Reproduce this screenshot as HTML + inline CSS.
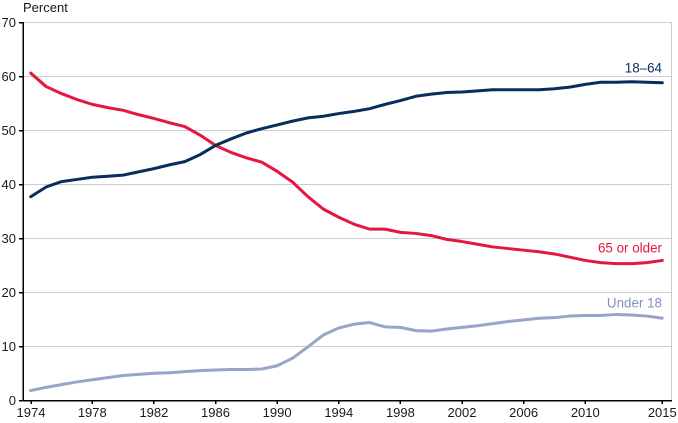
<!DOCTYPE html>
<html><head><meta charset="utf-8"><style>
html,body{margin:0;padding:0;background:#fff;}
svg{display:block;font-family:"Liberation Sans",Arial,sans-serif;}
</style></head><body>
<svg width="678" height="423" viewBox="0 0 678 423" xmlns="http://www.w3.org/2000/svg">
<g stroke="#cccccc" stroke-width="1" shape-rendering="crispEdges">
<line x1="23" y1="22.5" x2="671" y2="22.5"/>
<line x1="23" y1="76.5" x2="671" y2="76.5"/>
<line x1="23" y1="130.5" x2="671" y2="130.5"/>
<line x1="23" y1="184.5" x2="671" y2="184.5"/>
<line x1="23" y1="238.5" x2="671" y2="238.5"/>
<line x1="23" y1="292.5" x2="671" y2="292.5"/>
<line x1="23" y1="346.5" x2="671" y2="346.5"/>
<line x1="671.5" y1="22" x2="671.5" y2="400"/>
</g>
<g stroke="#000" stroke-width="1.5" shape-rendering="crispEdges">
<line x1="23" y1="22" x2="23" y2="401"/>
<line x1="22" y1="400.5" x2="672" y2="400.5"/>
<line x1="19" y1="22.5" x2="23" y2="22.5"/>
<line x1="19" y1="76.5" x2="23" y2="76.5"/>
<line x1="19" y1="130.5" x2="23" y2="130.5"/>
<line x1="19" y1="184.5" x2="23" y2="184.5"/>
<line x1="19" y1="238.5" x2="23" y2="238.5"/>
<line x1="19" y1="292.5" x2="23" y2="292.5"/>
<line x1="19" y1="346.5" x2="23" y2="346.5"/>
<line x1="19" y1="400.5" x2="23" y2="400.5"/>
<line x1="31" y1="400" x2="31" y2="404"/>
<line x1="92.3" y1="400" x2="92.3" y2="404"/>
<line x1="153.9" y1="400" x2="153.9" y2="404"/>
<line x1="215.5" y1="400" x2="215.5" y2="404"/>
<line x1="277.1" y1="400" x2="277.1" y2="404"/>
<line x1="338.8" y1="400" x2="338.8" y2="404"/>
<line x1="400.4" y1="400" x2="400.4" y2="404"/>
<line x1="462" y1="400" x2="462" y2="404"/>
<line x1="523.6" y1="400" x2="523.6" y2="404"/>
<line x1="585.3" y1="400" x2="585.3" y2="404"/>
<line x1="662.3" y1="400" x2="662.3" y2="404"/>
</g>
<g font-size="13" fill="#1a1a1a" text-anchor="end">
<text x="16" y="27">70</text>
<text x="16" y="81">60</text>
<text x="16" y="135">50</text>
<text x="16" y="189">40</text>
<text x="16" y="243">30</text>
<text x="16" y="297">20</text>
<text x="16" y="351">10</text>
<text x="16" y="405">0</text>
</g>
<text x="23" y="12" font-size="13" fill="#1a1a1a">Percent</text>
<g font-size="13" fill="#1a1a1a" text-anchor="middle">
<text x="31" y="417">1974</text>
<text x="92.3" y="417">1978</text>
<text x="153.9" y="417">1982</text>
<text x="215.5" y="417">1986</text>
<text x="277.1" y="417">1990</text>
<text x="338.8" y="417">1994</text>
<text x="400.4" y="417">1998</text>
<text x="462" y="417">2002</text>
<text x="523.6" y="417">2006</text>
<text x="585.3" y="417">2010</text>
<text x="662.3" y="417">2015</text>
</g>
<g transform="translate(30.7,400.3) scale(15.405,-5.4)" fill="none" stroke-linejoin="round" stroke-linecap="round">
<polyline vector-effect="non-scaling-stroke" stroke="#98a4c8" stroke-width="3" points="0,1.8 1,2.4 2,2.9 3,3.4 4,3.8 5,4.2 6,4.6 7,4.8 8,5.0 9,5.1 10,5.3 11,5.5 12,5.6 13,5.7 14,5.7 15,5.8 16,6.4 17,7.8 18,9.9 19,12.1 20,13.4 21,14.1 22,14.4 23,13.6 24,13.5 25,12.9 26,12.8 27,13.2 28,13.5 29,13.8 30,14.2 31,14.6 32,14.9 33,15.2 34,15.3 35,15.6 36,15.7 37,15.7 38,15.9 39,15.8 40,15.6 41,15.2"/>
<polyline vector-effect="non-scaling-stroke" stroke="#e4173e" stroke-width="3" points="0,60.6 1,58.1 2,56.8 3,55.7 4,54.8 5,54.2 6,53.7 7,52.9 8,52.2 9,51.4 10,50.7 11,49.1 12,47.2 13,45.9 14,44.9 15,44.1 16,42.4 17,40.4 18,37.7 19,35.4 20,33.9 21,32.6 22,31.7 23,31.7 24,31.1 25,30.9 26,30.5 27,29.8 28,29.4 29,28.9 30,28.4 31,28.1 32,27.8 33,27.5 34,27.1 35,26.5 36,25.9 37,25.5 38,25.3 39,25.3 40,25.5 41,25.9"/>
<polyline vector-effect="non-scaling-stroke" stroke="#0a2d5e" stroke-width="3" points="0,37.7 1,39.5 2,40.5 3,40.9 4,41.3 5,41.5 6,41.7 7,42.3 8,42.9 9,43.6 10,44.2 11,45.5 12,47.2 13,48.4 14,49.5 15,50.3 16,51.0 17,51.7 18,52.3 19,52.6 20,53.1 21,53.5 22,54.0 23,54.8 24,55.5 25,56.3 26,56.7 27,57.0 28,57.1 29,57.3 30,57.5 31,57.5 32,57.5 33,57.5 34,57.7 35,58.0 36,58.5 37,58.9 38,58.9 39,59.0 40,58.9 41,58.8"/>
</g>
<g font-size="13.4" text-anchor="end">
<text x="662" y="72.5" fill="#0a2d5e">18–64</text>
<text x="662" y="252.5" fill="#e4173e">65 or older</text>
<text x="662" y="307.5" fill="#8492bb">Under 18</text>
</g>
</svg>
</body></html>
